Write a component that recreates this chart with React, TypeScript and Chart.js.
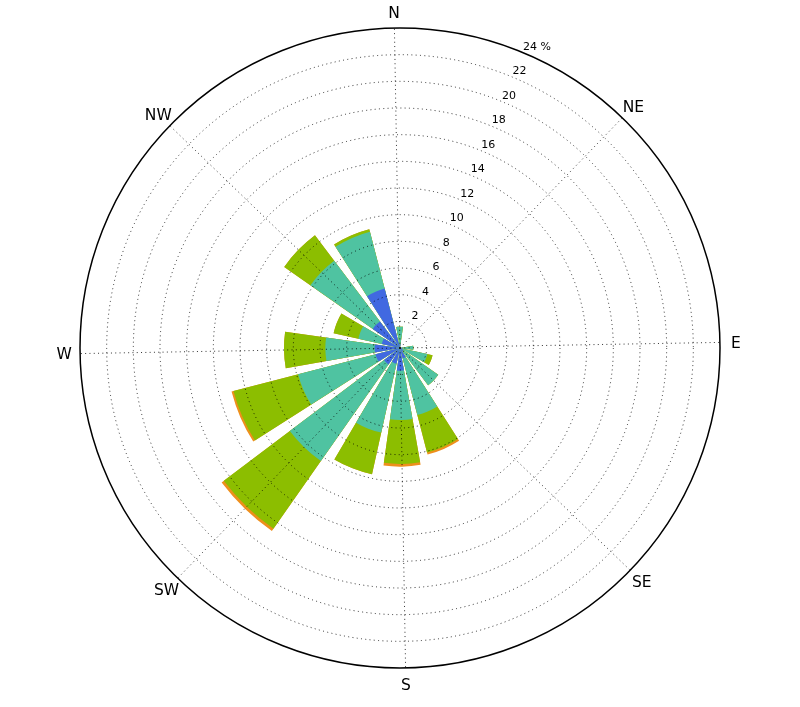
import React, { useEffect, useRef } from "react";
import { Chart, registerables } from "chart.js";

Chart.register(...registerables);

// 16 wind directions, clockwise from north
const directions = ["N", "NNE", "NE", "ENE", "E", "ESE", "SE", "SSE", "S", "SSW", "SW", "WSW", "W", "WNW", "NW", "NNW"];
const compassLabels = ["N", "NE", "E", "SE", "S", "SW", "W", "NW"];
const radialTicks = [2, 4, 6, 8, 10, 12, 14, 16, 18, 20, 22, 24];
const radialMax = 24;

// frequency (%) of each speed bin per direction
const binLabels = ["bin 1", "bin 2", "bin 3", "bin 4"];
const bin1 = [0.3, 0, 0, 0, 0.2, 0.2, 0.3, 0.8, 1.7, 1.2, 1.5, 1.9, 1.9, 1.4, 2.5, 4.6];
const bin2 = [1.3, 0, 0, 0, 0.8, 1.9, 3.2, 4.4, 3.7, 5.3, 8.85, 6.0, 3.7, 1.8, 5.7, 4.4];
const bin3 = [0, 0, 0, 0, 0, 0.4, 0, 2.9, 3.3, 3.2, 6.2, 5.0, 3.1, 1.9, 2.4, 0.2];
const bin4 = [0, 0, 0, 0, 0, 0, 0, 0.15, 0.2, 0, 0.2, 0.15, 0, 0, 0, 0];

const binColors = ["#4169e1", "#4fc3a1", "#8cbe00", "#ee8f1c"];

const BAR = 18; // degrees covered by each bar
const GAP = 360 / directions.length - BAR;
const ROTATION = -1;

// Build the arc sequence: N is split in two halves so that the scale's start angle is north.
function expand(vals: number[]) {
  const data: number[] = [vals[0]];
  const angles: number[] = [BAR / 2];
  for (let i = 1; i < vals.length; i++) {
    data.push(0);
    angles.push(GAP);
    data.push(vals[i]);
    angles.push(BAR);
  }
  data.push(0);
  angles.push(GAP);
  data.push(vals[0]);
  angles.push(BAR / 2);
  return { data, angles };
}

const bins = [bin1, bin2, bin3, bin4];

const labelPlugin = {
  id: "roseLabels",
  afterDraw(chart: any) {
    const s = chart.scales.r;
    const ctx = chart.ctx as CanvasRenderingContext2D;
    ctx.save();
    ctx.fillStyle = "#000";
    ctx.font = "15.5px 'DejaVu Sans'";
    ctx.textAlign = "center";
    ctx.textBaseline = "alphabetic";
    compassLabels.forEach((lab, i) => {
      const p = s.getPointPosition(i, s.drawingArea + 16);
      ctx.fillText(lab, p.x, p.y + 5.6);
    });
    ctx.font = "11px 'DejaVu Sans'";
    const a = (23.1 * Math.PI) / 180;
    radialTicks.forEach((v, i) => {
      const r = s.getDistanceFromCenterForValue(v);
      const cx = s.xCenter + r * Math.sin(a) + 4.5;
      const cy = s.yCenter - r * Math.cos(a) - 8;
      const txt = String(v);
      if (i === radialTicks.length - 1) {
        const w = ctx.measureText(txt).width;
        ctx.textAlign = "left";
        ctx.fillText(txt + " %", cx - w / 2, cy + 4);
      } else {
        ctx.textAlign = "center";
        ctx.fillText(txt, cx, cy + 4);
      }
    });
    ctx.restore();
  },
};

export default function App() {
  const ref = useRef<HTMLCanvasElement>(null);
  useEffect(() => {
    let acc = directions.map(() => 0);
    const datasets = bins.map((b, k) => {
      acc = acc.map((x, i) => x + b[i]);
      const { data, angles } = expand(acc);
      return {
        label: binLabels[k],
        data,
        backgroundColor: binColors[k],
        borderWidth: 0,
        angle: (c: any) => angles[c.dataIndex] ?? 22.5,
        order: k,
      };
    });
    const chart = new Chart(ref.current!, {
      type: "polarArea",
      data: { labels: compassLabels, datasets: datasets as any },
      options: {
        responsive: false,
        animation: false,
        devicePixelRatio: 1,
        layout: { padding: { left: 80, right: 80, top: 28, bottom: 39 } },
        plugins: { legend: { display: false }, tooltip: { enabled: false } },
        scales: {
          r: {
            min: 0,
            max: radialMax,
            startAngle: ROTATION,
            ticks: { display: false, stepSize: 2 },
            grid: {
              circular: true,
              z: 1,
              color: (c: any) => (c.tick && c.tick.value === radialMax ? "#000" : "rgba(0,0,0,0.8)"),
              lineWidth: (c: any) => (c.tick && c.tick.value === radialMax ? 1.5 : 1),
            },
            border: { dash: (c: any) => (c.tick && c.tick.value === radialMax ? [] : [1, 3.3]) },
            angleLines: { display: true, color: "rgba(0,0,0,0.8)", lineWidth: 1, borderDash: [1, 3.3] },
            pointLabels: { display: false },
          },
        },
      } as any,
      plugins: [labelPlugin],
    });
    return () => chart.destroy();
  }, []);
  return (
    <div style={{ position: "absolute", left: 0, top: 0, width: 800, height: 707, background: "#fff" }}>
      <canvas ref={ref} width={800} height={707} style={{ display: "block", width: 800, height: 707 }} />
    </div>
  );
}
